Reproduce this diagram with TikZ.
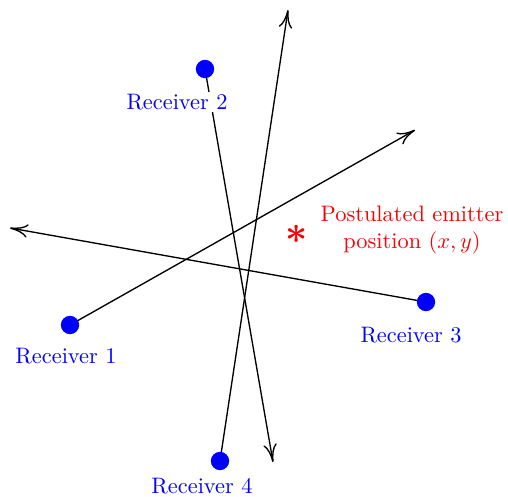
\documentclass[tikz,border=0pt]{standalone}
\usetikzlibrary{arrows.meta}
\begin{document}
\begin{tikzpicture}[x=0.447pt,y=-0.447pt,
  rx/.style={circle,fill=blue,inner sep=0pt,minimum size=8.2pt},
  rlabel/.style={text=blue,fill=white,inner sep=1pt},
  ray/.style={-{To[length=8pt,width=6pt]},line width=0.6pt}]
\useasboundingbox (0,0) rectangle (508,497);
\coordinate (r1) at (70,325);
\coordinate (r2) at (205,69);
\coordinate (r3) at (426,302);
\coordinate (r4) at (220,461);
\coordinate (e1) at (415,130);
\coordinate (e2) at (273,462);
\coordinate (e3) at (10,228);
\coordinate (e4) at (288,10);
\draw[ray] (r1) -- (e1);
\draw[ray] (r2) -- (e2);
\draw[ray] (r3) -- (e3);
\draw[ray] (r4) -- (e4);
\node[rlabel] (l1) at (66,356) {Receiver 1};
\node[rlabel] (l2) at (177,102) {Receiver 2};
\node[rlabel] (l3) at (411,335) {Receiver 3};
\node[rlabel] (l4) at (202,486) {Receiver 4};
\node[rx] (d1) at (r1) {};
\node[rx] (d2) at (r2) {};
\node[rx] (d3) at (r3) {};
\node[rx] (d4) at (r4) {};
\node[text=red,font=\LARGE\boldmath] (em) at (297,234) {$\ast$};
\node[text=red,align=center] (et) at (412,230) {Postulated emitter\\position $(x,y)$};
\end{tikzpicture}
\end{document}
